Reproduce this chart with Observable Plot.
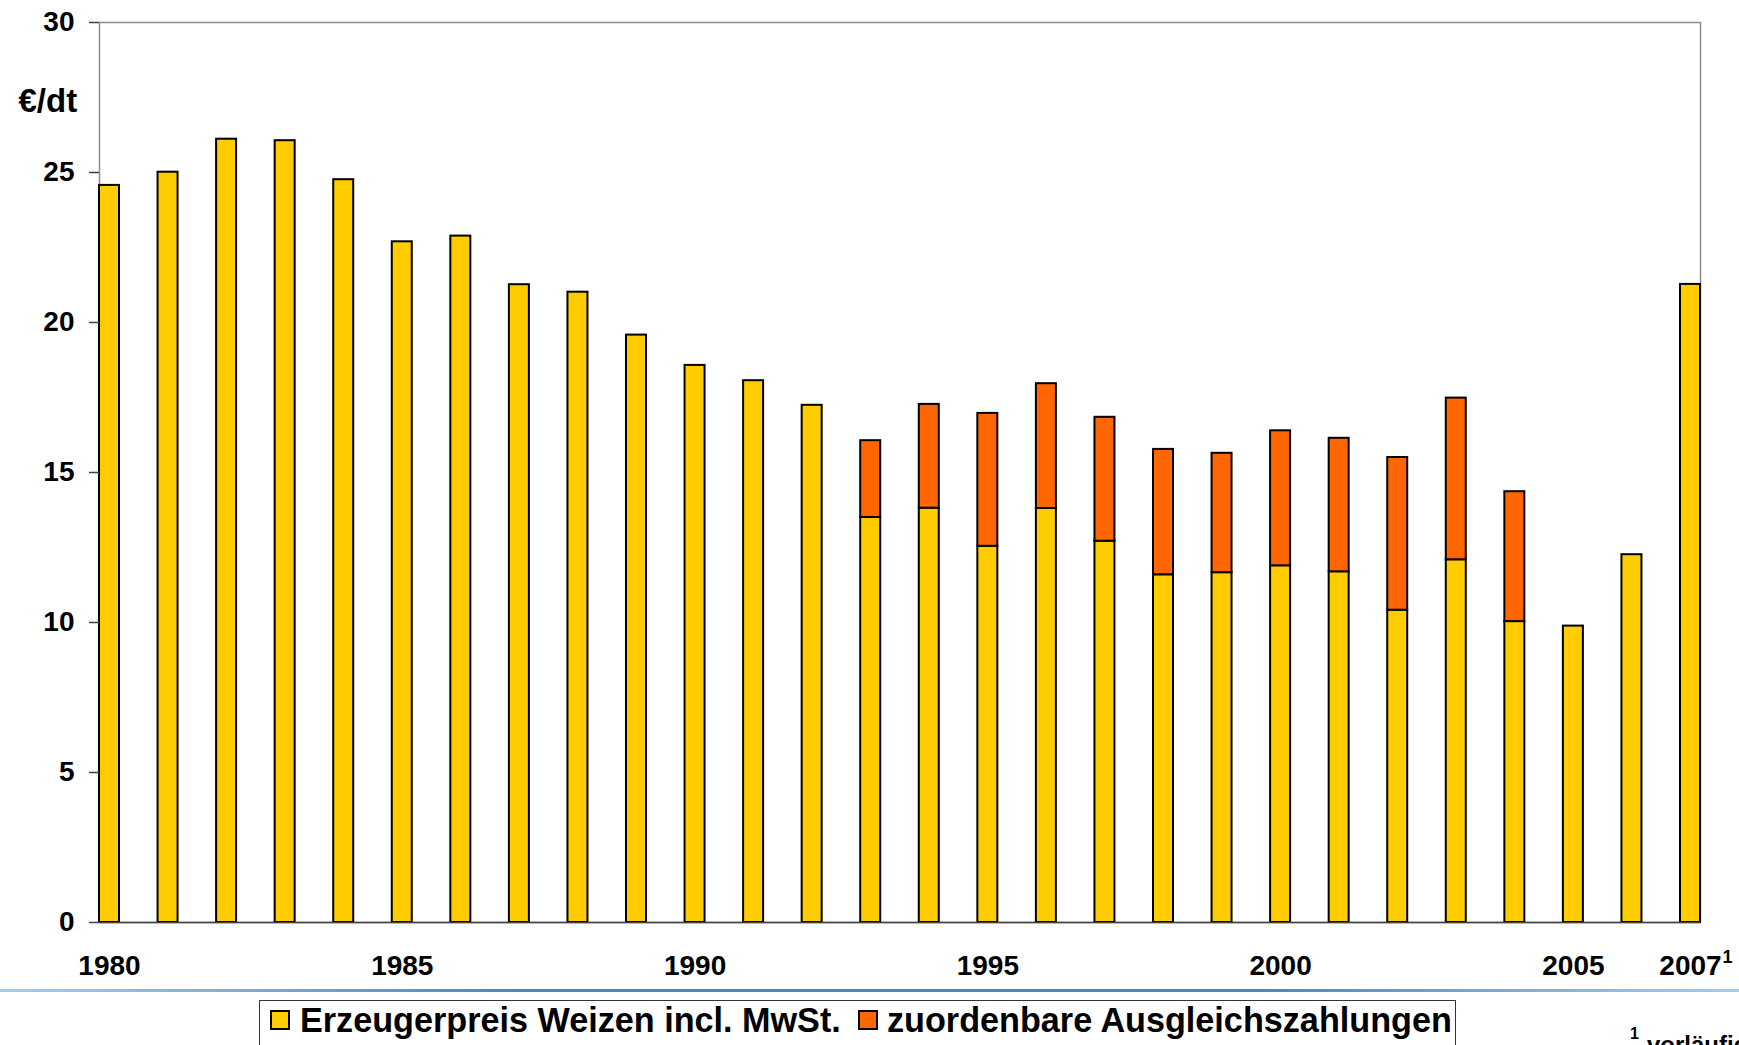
<!DOCTYPE html>
<html>
<head>
<meta charset="utf-8">
<script src="https://cdn.jsdelivr.net/npm/d3@7"></script>
<script src="https://cdn.jsdelivr.net/npm/@observablehq/plot@0.6"></script>
<style>
  html, body { margin: 0; padding: 0; background: #fff; overflow: hidden; }
  body { width: 1739px; height: 1045px; position: relative; font-family: "Liberation Sans", Arial, sans-serif; font-weight: bold; color: #000; }
  #chart { position: absolute; left: 0; top: 0; }
  .abs { position: absolute; line-height: 1; white-space: nowrap; }
  #sep { position: absolute; left: 0; top: 989px; width: 1739px; height: 3px;
         background: linear-gradient(to right, #a9cbe9 0%, #3f8ac9 30%, #3f8ac9 72%, #a9cbe9 100%); }
  #legendBox { position: absolute; left: 259px; top: 1000px; width: 1197px; height: 60px; border: 1.5px solid #333; box-sizing: border-box; }
  .sw { position: absolute; width: 20px; height: 20px; border: 2px solid #000; box-sizing: border-box; }
</style>
</head>
<body>
<div id="chart"></div>
<div id="sep"></div>
<div id="legendBox"></div>
<div id="legend"></div>
<div class="abs" id="fnSup" style="left:1630px; top:1026px; font-size:16px;">1</div>
<div class="abs" id="fnText" style="left:1647px; top:1033px; font-size:24px;">vorläufig</div>
<script>
// ---- data ----
const years = [1980, 1981, 1982, 1983, 1984, 1985, 1986, 1987, 1988, 1989,
               1990, 1991, 1992, 1993, 1994, 1995, 1996, 1997, 1998, 1999,
               2000, 2001, 2002, 2003, 2004, 2005, 2006, 2007];
const erzeugerpreis = [24.57, 25.01, 26.11, 26.06, 24.76, 22.69, 22.88, 21.26, 21.01, 19.58,
                       18.57, 18.06, 17.24, 13.50, 13.81, 12.54, 13.80, 12.71, 11.59, 11.66,
                       11.89, 11.69, 10.41, 12.09, 10.03, 9.88, 12.26, 21.27];
const ausgleich = [null, null, null, null, null, null, null, null, null, null,
                   null, null, null, 2.56, 3.46, 4.43, 4.16, 4.13, 4.18, 3.98,
                   4.50, 4.45, 5.09, 5.39, 4.33, null, null, null];
const seriesNames = ["Erzeugerpreis Weizen incl. MwSt.", "zuordenbare Ausgleichszahlungen"];
const seriesColors = ["#FFCC00", "#FF6600"];
const xTickYears = [1980, 1985, 1990, 1995, 2000, 2005, 2007];
const xTickLabels = ["1980", "1985", "1990", "1995", "2000", "2005", "2007"];
const footnoteYears = [2007];
const yTicks = [0, 5, 10, 15, 20, 25, 30];
const yUnit = "€/dt";

// ---- long table ----
const table = [];
years.forEach((year, i) => {
  table.push({year, series: seriesNames[0], value: erzeugerpreis[i]});
  if (ausgleich[i] != null) table.push({year, series: seriesNames[1], value: ausgleich[i]});
});

const chart = Plot.plot({
  width: 1739,
  height: 985,
  marginLeft: 99,
  marginRight: 39,
  marginTop: 22,
  marginBottom: 63,
  style: {fontFamily: "'Liberation Sans', Arial, sans-serif", fontWeight: "bold", fontSize: "28px", color: "#000", background: "#fff"},
  x: {type: "band", domain: years, paddingInner: 0.6585, paddingOuter: 0, align: 0.5, round: false, axis: null},
  y: {domain: [0, 30], axis: null},
  color: {domain: seriesNames, range: seriesColors},
  marks: [
    Plot.frame({stroke: "#8c8c8c", strokeWidth: 1.5}),
    Plot.barY(table, {x: "year", y: "value", fill: "series", stroke: "#000", strokeWidth: 2, order: seriesNames}),
    Plot.ruleY([0], {stroke: "#404040", strokeWidth: 1.5}),
    Plot.axisY({ticks: yTicks, tickSize: 10, tickPadding: 15, line: true, stroke: "#404040", strokeWidth: 1.5,
                fontSize: 28, fontWeight: "bold", label: null}),
    Plot.axisX({ticks: xTickYears, tickSize: 0, tickPadding: 33,
                tickFormat: d => xTickLabels[xTickYears.indexOf(d)], fontSize: 28, fontWeight: "bold", label: null}),
    Plot.text(footnoteYears, {x: d => d, text: () => "1", frameAnchor: "bottom", lineAnchor: "bottom",
                textAnchor: "start", dx: 32, dy: 40, fontSize: 18, fontWeight: "bold"}),
    Plot.text([yUnit], {text: d => d, frameAnchor: "top-left", textAnchor: "start", lineAnchor: "bottom",
                dx: -81, dy: 89, fontSize: 33, fontWeight: "bold"})
  ]
});
document.getElementById("chart").appendChild(chart);

// ---- legend (HTML below the SVG) ----
const legend = document.getElementById("legend");
const legendPos = [{sw: 270, tx: 300}, {sw: 858, tx: 887}];
seriesNames.forEach((name, i) => {
  const sw = document.createElement("div");
  sw.className = "sw";
  sw.style.left = legendPos[i].sw + "px";
  sw.style.top = "1010px";
  sw.style.background = seriesColors[i];
  legend.appendChild(sw);
  const tx = document.createElement("div");
  tx.className = "abs";
  tx.style.left = legendPos[i].tx + "px";
  tx.style.top = "1003px";
  tx.style.fontSize = "34.2px";
  tx.textContent = name;
  legend.appendChild(tx);
});
</script>
</body>
</html>
